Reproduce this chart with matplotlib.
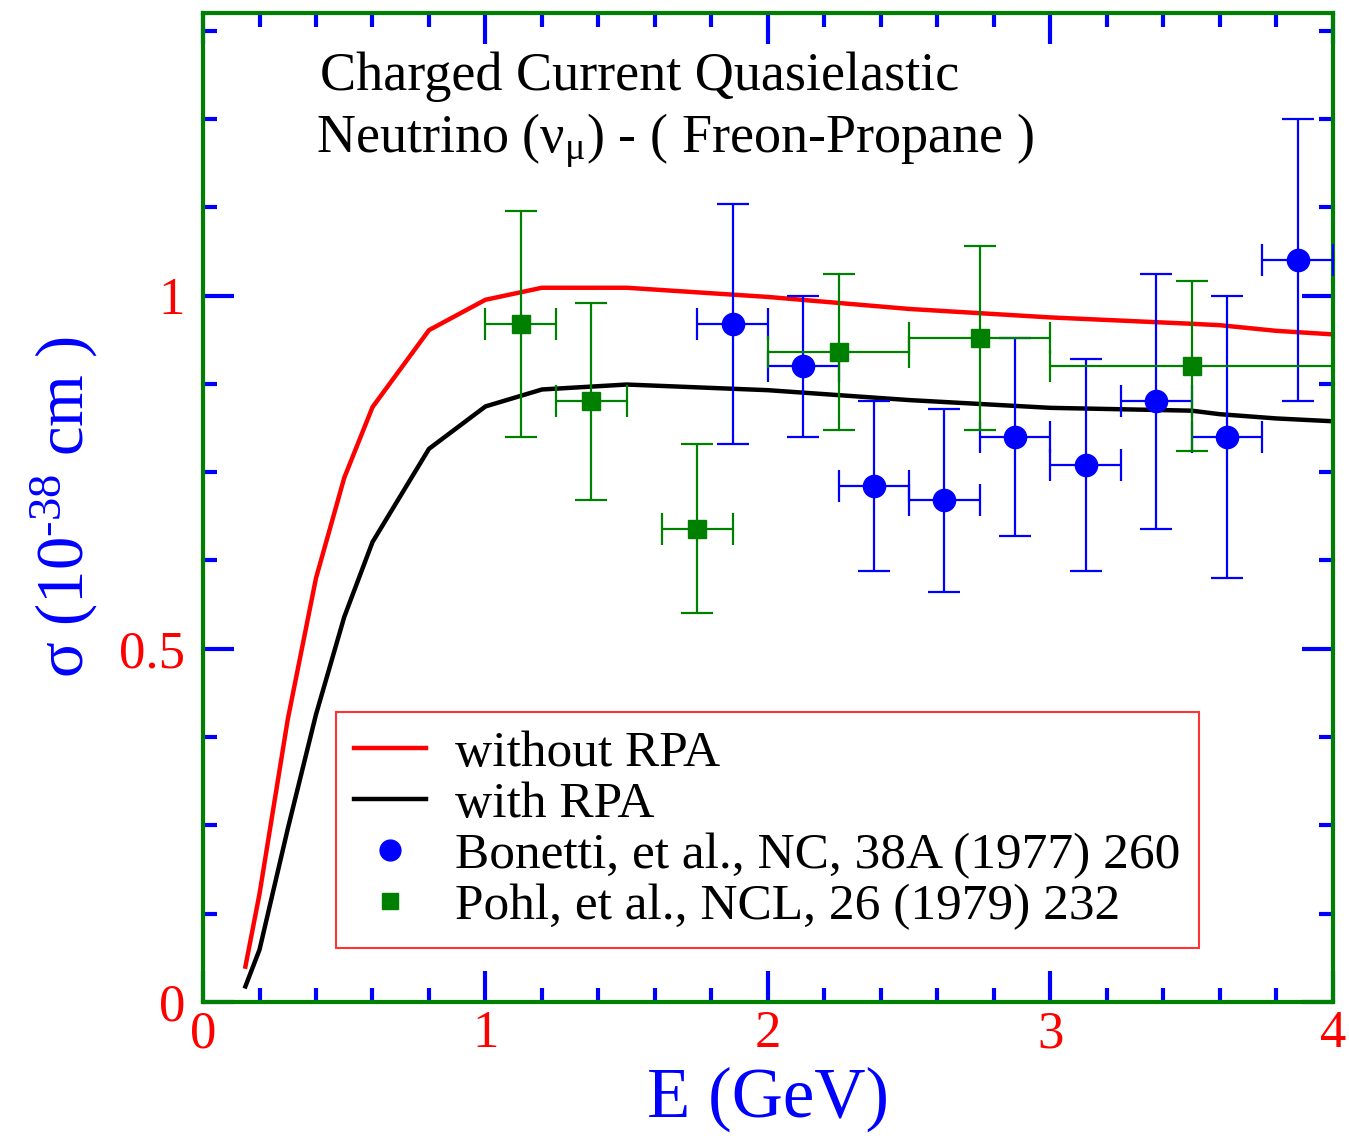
import matplotlib
matplotlib.use('Agg')
import matplotlib.pyplot as plt
from matplotlib.lines import Line2D
from matplotlib.ticker import MultipleLocator

# Theory curves: CCQE cross section vs neutrino energy
E_curve = [0.15, 0.2, 0.3, 0.4, 0.5, 0.6, 0.8, 1.0, 1.2, 1.5, 2.0, 2.5, 3.0, 3.5, 3.6, 3.8, 4.0]
sigma_no_rpa = [0.050, 0.153, 0.400, 0.600, 0.742, 0.842, 0.951, 0.994, 1.011, 1.011,
                0.998, 0.981, 0.969, 0.960, 0.958, 0.950, 0.945]
sigma_rpa = [0.022, 0.074, 0.245, 0.407, 0.545, 0.651, 0.783, 0.843, 0.867, 0.874,
             0.866, 0.852, 0.841, 0.837, 0.832, 0.826, 0.822]

# Bonetti et al. data
E_bon = [1.875, 2.125, 2.375, 2.625, 2.875, 3.125, 3.375, 3.625, 3.875]
dE_bon = [0.125] * 9
sig_bon = [0.96, 0.90, 0.73, 0.71, 0.80, 0.76, 0.85, 0.80, 1.05]
err_bon = [0.17, 0.10, 0.12, 0.13, 0.14, 0.15, 0.18, 0.20, 0.20]

# Pohl et al. data
E_pohl = [1.125, 1.375, 1.75, 2.25, 2.75, 3.5]
dE_pohl = [0.125, 0.125, 0.125, 0.25, 0.25, 0.5]
sig_pohl = [0.96, 0.85, 0.67, 0.92, 0.94, 0.90]
err_pohl = [0.16, 0.14, 0.12, 0.11, 0.13, 0.12]

plt.rcParams['font.family'] = ['Liberation Serif', 'DejaVu Serif']
plt.rcParams['mathtext.fontset'] = 'custom'
plt.rcParams['mathtext.rm'] = 'Liberation Serif'
plt.rcParams['mathtext.it'] = 'Liberation Serif:italic'
plt.rcParams['mathtext.bf'] = 'Liberation Serif:bold'

green = '#008000'
blue = '#0000ff'
red = '#ff0000'

fig = plt.figure(figsize=(13.49, 11.36), dpi=100)
ax = fig.add_axes([0.1505, 0.118, 0.8375, 0.8706])

ax.plot(E_curve, sigma_no_rpa, color=red, lw=3.2, zorder=2)
ax.plot(E_curve, sigma_rpa, color='black', lw=3.2, zorder=2)

ax.errorbar(E_bon, sig_bon, xerr=dE_bon, yerr=err_bon, fmt='o', color=blue,
            ms=16, elinewidth=1.6, capsize=11.5, capthick=1.6, zorder=3)
ax.errorbar(E_pohl, sig_pohl, xerr=dE_pohl, yerr=err_pohl, fmt='s', color=green,
            ms=13, elinewidth=1.6, capsize=11.5, capthick=1.6, zorder=3)

ax.set_xlim(0, 4)
ax.set_ylim(0, 1.4)
ax.xaxis.set_major_locator(MultipleLocator(1))
ax.xaxis.set_minor_locator(MultipleLocator(0.2))
ax.yaxis.set_major_locator(MultipleLocator(0.5))
ax.yaxis.set_minor_locator(MultipleLocator(0.125))
ax.set_yticks([0, 0.5, 1])
ax.set_yticklabels(['0', '0.5', '1'])

ax.tick_params(which='both', direction='in', top=True, right=True, color=blue,
               width=3, labelcolor=red, labelsize=38)
ax.tick_params(which='major', length=22)
ax.tick_params(which='minor', length=10)
ax.tick_params(axis='x', pad=6)
ax.tick_params(axis='y', pad=13)

for sp in ax.spines.values():
    sp.set_color(green)
    sp.set_linewidth(3)

ax.set_xlabel('E (GeV)', color=blue, fontsize=51, labelpad=6)
ax.set_ylabel(r'σ (10$^{\text{-38}}$ cm )', color=blue, fontsize=48, labelpad=14)

ax.text(0.1035, 0.922, 'Charged Current Quasielastic', transform=ax.transAxes,
        fontsize=39, ha='left', va='baseline')
ax.text(0.1000, 0.859, r'Neutrino ($\mathrm{ν}_{\mathrm{μ}}$) - ( Freon-Propane )',
        transform=ax.transAxes, fontsize=39, ha='left', va='baseline')

handles = [
    Line2D([], [], color=red, lw=3.2),
    Line2D([], [], color='black', lw=3.2),
    Line2D([], [], color=blue, marker='o', ls='none', ms=15),
    Line2D([], [], color=green, marker='s', ls='none', ms=11),
]
labels = ['without RPA', 'with RPA', 'Bonetti, et al., NC, 38A (1977) 260',
          'Pohl, et al., NCL, 26 (1979) 232']
leg = ax.legend(handles, labels, loc='lower left',
                bbox_to_anchor=(0.118, 0.0546, 0.764, 0.242), mode='expand',
                borderaxespad=0, fontsize=37, fancybox=False, handlelength=1.4,
                handletextpad=0.55, labelspacing=0.08, borderpad=0.35)
leg.get_frame().set_edgecolor(red)
leg.get_frame().set_linewidth(1.5)

fig.savefig('out.png', dpi=100)
